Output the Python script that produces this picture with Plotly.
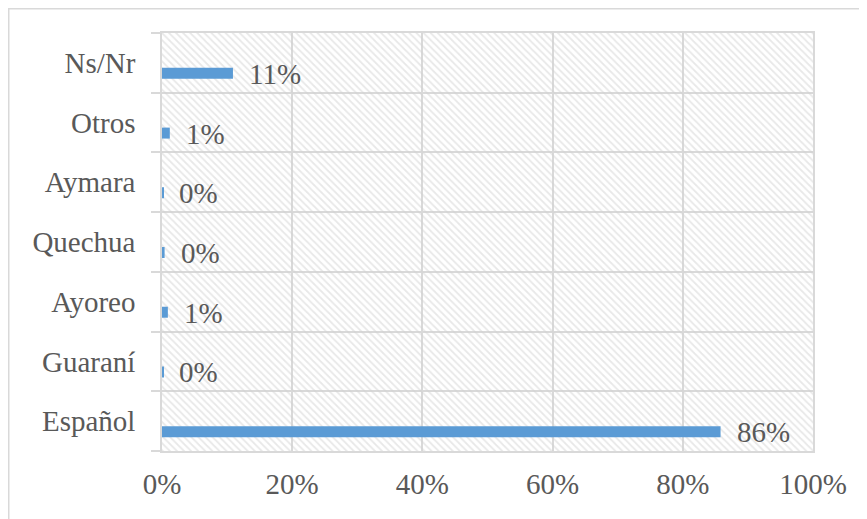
import plotly.graph_objects as go

categories = ["Español", "Guaraní", "Ayoreo", "Quechua", "Aymara", "Otros", "Ns/Nr"]
values = [85.8, 0.2, 0.9, 0.4, 0.2, 1.2, 10.9]
x_ticks = [0, 20, 40, 60, 80, 100]
x_tick_labels = ["0%", "20%", "40%", "60%", "80%", "100%"]
labels = [f"{round(v)}%" for v in values]

FONT = "Liberation Serif"
GREY = "#595959"
LINE = "#d9d9d9"

fig = go.Figure()

# hatched plot-area background
fig.add_trace(go.Bar(
    x=[x_ticks[-1]], y=[categories[3]], orientation="h",
    width=len(categories), offset=-len(categories) / 2,
    marker=dict(color="rgba(255,255,255,0)", line=dict(width=0),
                pattern=dict(shape="\\", fgcolor="#d2d2d2", bgcolor="rgba(255,255,255,0)",
                             size=5, solidity=0.35)),
    hoverinfo="skip", showlegend=False,
))

fig.add_trace(go.Bar(
    x=values, y=categories, orientation="h",
    width=0.184, offset=-0.268,
    marker=dict(color="#5b9bd5", line=dict(width=0)),
    showlegend=False,
))

for c, v, t in zip(categories, values, labels):
    fig.add_annotation(x=v, y=c, text=t, xanchor="left", yanchor="middle",
                       xshift=14, yshift=-11, showarrow=False,
                       font=dict(family=FONT, size=29, color=GREY))

fig.add_shape(type="rect", xref="paper", yref="paper",
              x0=-0.2354, x1=1.2, y0=-0.3, y1=1.058,
              line=dict(color=LINE, width=1.5), layer="below")

fig.update_layout(
    width=867, height=519,
    margin=dict(l=154, r=62, t=25, b=76),
    paper_bgcolor="white", plot_bgcolor="white",
    barmode="overlay",
    font=dict(family=FONT, size=29, color=GREY),
    xaxis=dict(range=[0, 100], tickvals=x_ticks, ticktext=x_tick_labels,
               showgrid=True, gridcolor=LINE, gridwidth=1.5, automargin=False,
               zeroline=False, showline=True, linecolor=LINE, linewidth=1.5, mirror=True,
               ticks="", ticklabelstandoff=6, fixedrange=True),
    yaxis=dict(range=[-0.5, 6.5], type="category", categoryorder="array",
               categoryarray=categories, tickson="boundaries", automargin=False,
               showgrid=True, gridcolor=LINE, gridwidth=1.5,
               showline=True, linecolor=LINE, linewidth=1.5, mirror=True,
               ticks="outside", ticklen=9, tickcolor=LINE, tickwidth=1.5,
               ticklabelstandoff=19, fixedrange=True),
)

fig.write_html("out.html")
